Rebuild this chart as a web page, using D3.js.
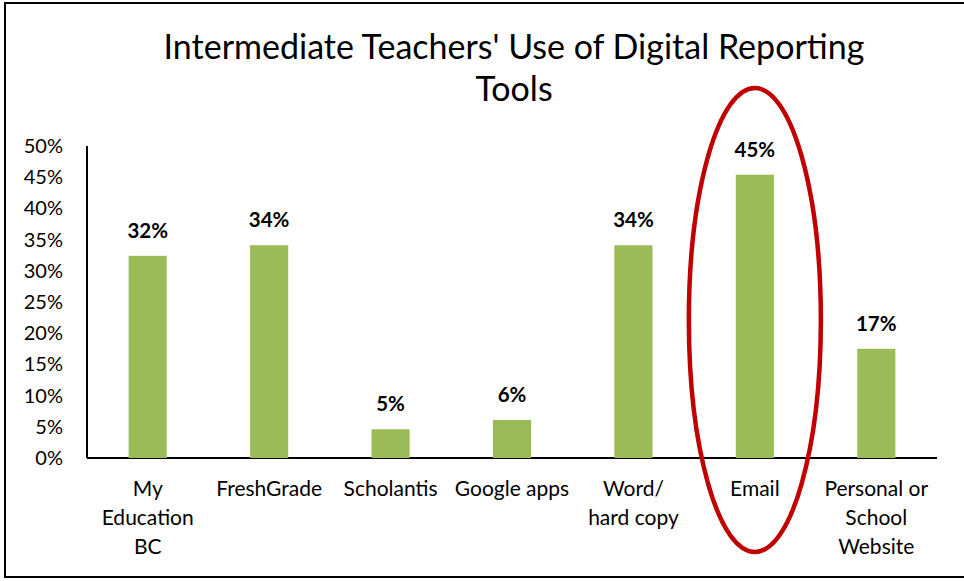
<!DOCTYPE html>
<html>
<head>
<meta charset="utf-8">
<script src="https://cdn.jsdelivr.net/npm/d3@7"></script>
<style>
  body { margin: 0; background: white; }
  text { font-family: Lato, "Open Sans", sans-serif; fill: #000; }
</style>
</head>
<body>
<div id="container"></div>
<script>
let w = 964;
let h = 581;

// data
let categories = [
  ["My", "Education", "BC"],
  ["FreshGrade"],
  ["Scholantis"],
  ["Google apps"],
  ["Word/", "hard copy"],
  ["Email"],
  ["Personal or", "School", "Website"]
];
let values = [0.324, 0.341, 0.046, 0.061, 0.341, 0.454, 0.175];
let valueLabels = ["32%", "34%", "5%", "6%", "34%", "45%", "17%"];
let yTicks = [0, 0.05, 0.10, 0.15, 0.20, 0.25, 0.30, 0.35, 0.40, 0.45, 0.50];
let titleLines = ["Intermediate Teachers' Use of Digital Reporting", "Tools"];
let highlighted = 5;

let viz = d3.select("#container")
  .append("svg")
    .attr("width", w)
    .attr("height", h)
    .style("background-color", "white")
;

// chart frame
viz.append("rect")
    .attr("x", 5)
    .attr("y", 3)
    .attr("width", w + 10)
    .attr("height", 574)
    .attr("fill", "none")
    .attr("stroke", "#000")
    .attr("stroke-width", 2)
;

let plotLeft = 87, plotRight = 937, plotTop = 146, plotBottom = 458;

let xScale = d3.scaleBand()
  .domain(d3.range(categories.length))
  .range([plotLeft, plotRight])
  .paddingInner(0.686)
  .paddingOuter(0.343);

let yScale = d3.scaleLinear().domain([0, 0.5]).range([plotBottom, plotTop]);

// title
viz.append("text")
    .attr("text-anchor", "middle")
    .attr("font-size", 34)
  .selectAll("tspan").data(titleLines).enter()
  .append("tspan")
    .attr("x", 514)
    .attr("y", (d, i) => 59 + i * 42)
    .text(d => d)
;

// y axis labels
let yAxis = d3.axisLeft(yScale)
  .tickValues(yTicks)
  .tickSize(0)
  .tickPadding(24)
  .tickFormat(d3.format(".0%"));

let yG = viz.append("g")
    .attr("transform", "translate(" + plotLeft + ",0)")
    .call(yAxis);
yG.select(".domain").remove();
yG.selectAll("text")
    .attr("font-size", 20)
    .attr("font-family", "Lato, 'Open Sans', sans-serif");

// axis lines
viz.append("line")
    .attr("x1", plotLeft).attr("x2", plotLeft)
    .attr("y1", plotTop).attr("y2", plotBottom)
    .attr("stroke", "#000").attr("stroke-width", 2);
viz.append("line")
    .attr("x1", plotLeft).attr("x2", plotRight)
    .attr("y1", plotBottom).attr("y2", plotBottom)
    .attr("stroke", "#000").attr("stroke-width", 2);

// bars
let groups = viz.selectAll(".datagroup").data(values).enter()
  .append("g")
    .classed("datagroup", true);

groups.append("rect")
    .attr("x", (d, i) => xScale(i))
    .attr("y", d => yScale(d))
    .attr("width", xScale.bandwidth())
    .attr("height", d => plotBottom - yScale(d))
    .attr("fill", "#9BBB59");

groups.append("text")
    .text((d, i) => valueLabels[i])
    .attr("x", (d, i) => xScale(i) + xScale.bandwidth() / 2)
    .attr("y", d => yScale(d) - 18)
    .attr("text-anchor", "middle")
    .attr("font-size", 20.5)
    .attr("font-weight", "bold");

// category labels
let catLabels = viz.selectAll(".cat").data(categories).enter()
  .append("text")
    .classed("cat", true)
    .attr("text-anchor", "middle")
    .attr("font-size", 21);

catLabels.selectAll("tspan").data((d, i) => d.map(t => ({t: t, i: i}))).enter()
  .append("tspan")
    .attr("x", d => xScale(d.i) + xScale.bandwidth() / 2)
    .attr("y", (d, j) => 496 + j * 29)
    .text(d => d.t);

// red ellipse around Email
viz.append("ellipse")
    .attr("cx", xScale(highlighted) + xScale.bandwidth() / 2)
    .attr("cy", 320)
    .attr("rx", 66)
    .attr("ry", 232)
    .attr("fill", "none")
    .attr("stroke", "#C00000")
    .attr("stroke-width", 4.5);
</script>
</body>
</html>
